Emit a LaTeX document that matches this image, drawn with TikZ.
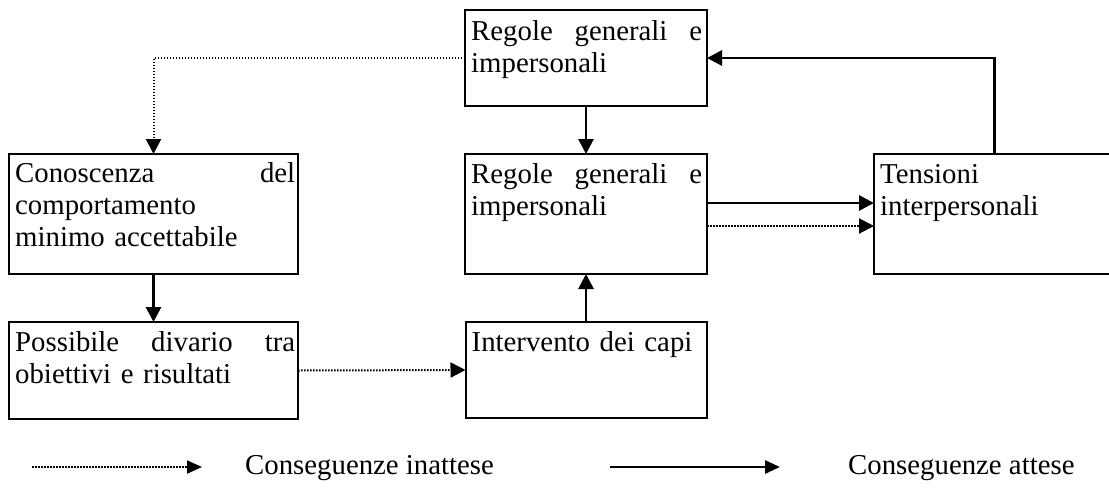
\documentclass[tikz,border=0pt]{standalone}
\usepackage{fontspec}
\setmainfont{Liberation Serif}
\usetikzlibrary{arrows.meta,calc}
\begin{document}
\begin{tikzpicture}[x=1pt,y=-1pt,
  box/.style 2 args={draw, line width=2pt, minimum width=#1, minimum height=#2, inner sep=0pt, outer sep=0pt},
  txt/.style={inner sep=0pt, anchor=base west, align=left, font=\fontsize{28.8pt}{32pt}\selectfont},
  solidarr/.style={line width=2.8pt, -{Triangle[length=15pt,width=15pt]}},
  dotarr/.style={line width=2pt, dash pattern=on 1.5pt off 1.5pt, -{Triangle[length=15pt,width=15pt]}},
  legsolid/.style={line width=2.8pt, -{Triangle[length=15pt,width=13pt]}},
  legdot/.style={line width=2pt, dash pattern=on 1.5pt off 1.5pt, -{Triangle[length=15pt,width=13pt]}},
]
\clip (0,0) rectangle (1109,488);
\useasboundingbox (0,0) rectangle (1109,488);

% boxes
\node[box={242pt}{96pt}] (top) at (586,58) {};
\node[box={289pt}{120pt}] (lft) at (153.5,214) {};
\node[box={242pt}{120pt}] (mid) at (586,214) {};
\node[box={241pt}{120pt}] (rgt) at (994.5,214) {};
\node[box={289pt}{97pt}] (gap) at (153.5,370.5) {};
\node[box={241pt}{96pt}] (int) at (586,370) {};

% texts
\node[txt, text width=231pt] (toptxt) at ([xshift=6pt,yshift=-30pt]top.north west) {Regole\hfill generali\hfill e\\impersonali};
\node[txt, text width=280pt] (lfttxt) at ([xshift=6pt,yshift=-28pt]lft.north west) {Conoscenza\hfill del\\comportamento\\minimo accettabile};
\node[txt, text width=231pt] (midtxt) at ([xshift=6pt,yshift=-29pt]mid.north west) {Regole\hfill generali\hfill e\\impersonali};
\node[txt, text width=200pt] (rgttxt) at ([xshift=6pt,yshift=-29pt]rgt.north west) {Tensioni\\interpersonali};
\node[txt, text width=280pt] (gaptxt) at ([xshift=6pt,yshift=-29pt]gap.north west) {Possibile\hfill divario\hfill tra\\obiettivi e risultati};
\node[txt, text width=231pt] (inttxt) at ([xshift=6pt,yshift=-29pt]int.north west) {Intervento dei capi};

% connectors
\draw[solidarr] (top.south) -- (mid.north);
\draw[solidarr] (int.north) -- (mid.south);
\draw[solidarr] (lft.south) -- (gap.north);
\draw[dotarr] (gap.east) -- (int.west);
\draw[solidarr] ([yshift=11pt]mid.east) -- ([yshift=11pt]rgt.west);
\draw[dotarr] ([yshift=-12pt]mid.east) -- ([yshift=-12pt]rgt.west);
\draw[solidarr] (rgt.north) |- (top.east);
\draw[dotarr] (top.west) -| (lft.north);

% legend
\coordinate (d1) at (32,467);
\coordinate (d2) at (202,467);
\draw[legdot] (d1) -- (d2);
\node[txt] (l1) at (245,474) {Conseguenze inattese};
\coordinate (s1) at (610,467);
\coordinate (s2) at (780,467);
\draw[legsolid] (s1) -- (s2);
\node[txt] (l2) at (848,474) {Conseguenze attese};
\end{tikzpicture}
\end{document}
